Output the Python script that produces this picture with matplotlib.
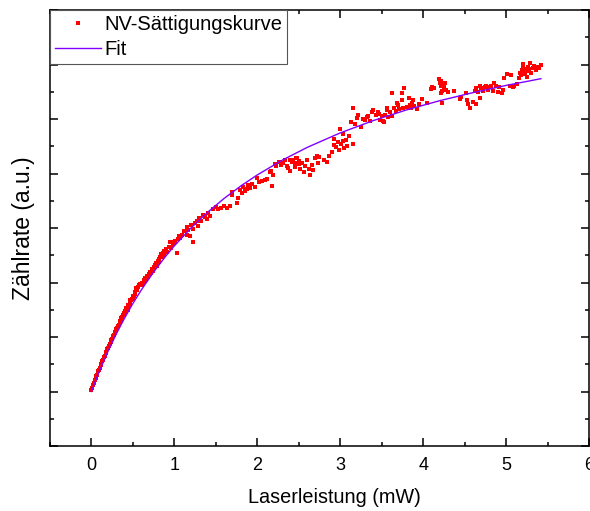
import matplotlib
matplotlib.use("Agg")
import matplotlib.pyplot as plt
from matplotlib.ticker import MultipleLocator, NullFormatter

plt.rcParams['font.family'] = ['Liberation Sans', 'DejaVu Sans']

# Measured points (power in mW, count rate in a.u.)
seg_a_x = [0.00,0.01,0.02,0.03,0.04,0.05,0.06,0.07,0.08,0.09,0.10,0.11,0.12,0.13,0.14,0.15,0.16,0.17,0.18,0.19,
           0.20,0.21,0.22,0.23,0.24,0.25,0.26,0.27,0.28,0.29,0.30,0.31,0.32,0.33,0.34,0.35,0.36,0.37,0.38,0.39,
           0.40,0.41,0.42,0.43,0.44,0.45,0.46,0.47,0.48,0.49,0.50,0.51,0.52,0.53,0.54,0.55,0.56,0.57,0.58,
           0.36,0.39,0.42,0.45,0.47,0.44,0.50]
seg_a_y = [0.02,0.06,0.12,0.15,0.21,0.24,0.29,0.31,0.37,0.40,0.43,0.49,0.50,0.56,0.58,0.63,0.65,0.71,0.72,0.78,
           0.80,0.83,0.88,0.90,0.95,0.96,1.02,1.03,1.08,1.10,1.14,1.17,1.21,1.22,1.28,1.30,1.34,1.36,1.41,1.40,
           1.46,1.47,1.53,1.52,1.58,1.59,1.64,1.63,1.68,1.70,1.72,1.76,1.78,1.82,1.90,1.86,1.92,1.95,1.97,
           1.30,1.44,1.49,1.56,1.67,1.50,1.75]

seg_b_x = [0.60,0.61,0.62,0.63,0.64,0.65,0.66,0.67,0.68,0.69,0.70,0.71,0.72,0.73,0.74,0.75,0.76,0.77,0.78,0.79,
           0.80,0.81,0.82,0.83,0.84,0.85,0.86,0.87,0.88,0.90,0.91,0.93,0.95,0.96,0.98,1.00,1.01,1.03,1.04,1.06,
           1.07,1.09,1.12,1.15,1.15,1.17,1.19,1.20,1.22,1.23,1.25,1.27,1.28,1.30,1.32,1.35,1.37,1.39,1.41,1.43]
seg_b_y = [1.96,2.00,1.97,2.04,2.02,2.08,2.05,2.12,2.10,2.16,2.13,2.20,2.18,2.24,2.22,2.29,2.27,2.33,2.36,2.31,
           2.40,2.44,2.38,2.47,2.52,2.46,2.55,2.50,2.58,2.62,2.56,2.66,2.74,2.63,2.70,2.74,2.77,2.54,2.80,2.85,
           2.82,2.88,2.94,2.87,3.02,2.96,2.85,3.06,2.99,2.74,3.09,3.13,3.04,3.18,3.12,3.24,3.20,3.17,3.27,3.22]

seg_c_x = [1.47,1.50,1.53,1.56,1.60,1.63,1.67,1.69,1.70,1.75,1.77,1.79,1.81,1.83,1.85,1.87,1.89,1.91,1.94,1.97,
           2.00,2.02,2.06,2.09,2.12,2.15,2.17,2.18,2.19,2.21,2.23,2.26,2.28,2.31,2.33,2.36,2.37,2.39,2.42,2.45,
           2.47,2.50]
seg_c_y = [3.35,3.38,3.34,3.37,3.40,3.36,3.40,3.66,3.60,3.45,3.55,3.70,3.64,3.76,3.68,3.72,3.78,3.74,3.80,3.76,
           3.91,3.84,3.87,3.88,3.90,4.02,4.05,3.77,3.97,4.18,4.13,4.22,4.15,4.20,4.24,4.14,4.10,4.25,4.22,4.19,
           4.28,4.23]

seg_d_x = [2.40,2.43,2.45,2.48,2.50,2.52,2.54,2.56,2.58,2.60,2.62,2.64,2.66,2.67,2.70,2.72,2.73,2.75,2.80,2.84,
           2.87,2.90,2.92,2.93,2.95,2.97,2.99,3.00,3.01,3.03,3.03,3.05,3.07,3.08,3.10,3.13,3.15,3.16,3.18,3.20,
           3.22,3.25,3.27,3.30,3.32,3.34,3.36,3.38,3.40,3.43,3.45,3.47,3.50,3.53,3.56,3.57]
seg_d_y = [4.05,4.24,4.12,4.29,4.17,4.08,4.20,4.02,4.13,4.25,4.09,3.98,4.15,4.06,4.28,4.33,4.20,4.31,4.25,4.22,
           4.33,4.40,4.53,4.64,4.48,4.58,4.43,4.82,4.55,4.60,4.73,4.46,4.62,4.50,4.68,4.94,4.55,5.21,4.91,5.02,
           5.08,4.86,5.00,4.99,5.04,5.06,4.97,5.12,5.17,5.08,5.13,5.10,5.05,4.94,5.16,5.21]

seg_e_x = [3.48,3.51,3.54,3.58,3.60,3.62,3.63,3.65,3.67,3.68,3.70,3.71,3.74,3.74,3.76,3.77,3.80,3.83,3.84,3.85,
           3.86,3.88,3.89,3.93,3.95,3.99,4.05,4.10,4.11,4.13,4.19,4.20,4.21,4.22,4.23,4.22,4.24,4.25,4.26,4.27,
           4.23,4.30,4.37,4.45,4.46,4.52,4.53,4.54,4.56]
seg_e_y = [4.99,4.97,5.08,5.03,5.12,5.47,5.06,5.21,5.15,5.30,5.25,5.19,5.47,5.34,5.20,5.56,5.22,5.39,5.26,5.21,
           5.30,5.34,5.23,5.19,5.28,5.37,5.30,5.55,5.59,5.56,5.74,5.66,5.60,5.70,5.52,5.47,5.63,5.58,5.66,5.54,
           5.30,5.49,5.52,5.37,5.40,5.48,5.34,5.28,5.21]

seg_f_x = [4.60,4.64,4.68,4.62,4.64,4.66,4.68,4.70,4.72,4.74,4.76,4.78,4.80,4.82,4.84,4.86,4.88,4.90,4.92,4.95,
           4.96,4.98,5.01,5.05,5.06,5.08,5.10,5.13,5.16,5.17,5.18,5.19,5.20,5.21,5.22,5.23,5.24,5.25,5.26,5.27,
           5.28,5.29,5.30,5.32,5.34,5.36,5.38,5.40,5.42]
seg_f_y = [5.32,5.28,5.39,5.52,5.56,5.49,5.60,5.56,5.52,5.58,5.61,5.54,5.59,5.61,5.52,5.66,5.60,5.50,5.58,5.47,
           5.53,5.76,5.83,5.61,5.80,5.58,5.61,5.65,5.76,5.85,5.80,5.90,5.96,6.01,5.87,5.83,5.92,5.78,5.95,5.88,
           5.92,6.03,5.85,5.93,5.98,5.90,5.96,5.94,5.99]

# Fit curve samples
fit_x = [0.0,0.05,0.1,0.2,0.3,0.4,0.5,0.6,0.75,0.9,1.0,1.2,1.4,1.6,1.8,2.0,2.3,2.6,3.0,3.4,3.8,4.2,4.6,5.0,5.42]
fit_y = [0.0,0.199,0.388,0.738,1.057,1.348,1.615,1.860,2.193,2.491,2.672,3.000,3.288,3.543,3.770,3.974,4.244,4.478,4.745,4.972,5.167,5.336,5.484,5.616,5.740]

data_x = seg_a_x + seg_b_x + seg_c_x + seg_d_x + seg_e_x + seg_f_x
data_y = seg_a_y + seg_b_y + seg_c_y + seg_d_y + seg_e_y + seg_f_y

fig = plt.figure(figsize=(5.90, 5.11), dpi=100)
ax = fig.add_axes([0.0847, 0.1272, 0.9136, 0.8532])

ax.plot(data_x, data_y, linestyle='none', marker='s', markersize=2.7,
        color='#ff0000', markeredgewidth=0, label='NV-Sättigungskurve')
ax.plot(fit_x, fit_y, color='#8000ff', linewidth=1.0, label='Fit')

ax.set_xlim(-0.5, 6)
ax.set_ylim(-1, 7)
ax.xaxis.set_major_locator(MultipleLocator(1))
ax.xaxis.set_minor_locator(MultipleLocator(0.5))
ax.yaxis.set_major_locator(MultipleLocator(1))
ax.yaxis.set_minor_locator(MultipleLocator(0.5))
ax.yaxis.set_major_formatter(NullFormatter())

ax.tick_params(which='both', direction='in', top=True, right=True, width=1.1, colors='black')
ax.tick_params(which='major', length=5.8)
ax.tick_params(which='minor', length=2.9)
ax.tick_params(axis='x', labelsize=13, pad=8)
for s in ax.spines.values():
    s.set_linewidth(1.1)

ax.set_xlabel('Laserleistung (mW)', fontsize=14.3, labelpad=11)
ax.xaxis.set_label_coords(0.528, -0.097)
ax.set_ylabel('Zählrate (a.u.)', fontsize=16.5, labelpad=7)

leg = ax.legend(loc='upper left', bbox_to_anchor=(0, 1), borderaxespad=0,
                fontsize=14.5, frameon=True, fancybox=False, edgecolor='#555555',
                framealpha=1, borderpad=0.25, labelspacing=0.3, handlelength=2.3,
                handletextpad=0.15, markerscale=1.0)
leg.get_frame().set_linewidth(0.8)

fig.savefig('out.png', dpi=100)
